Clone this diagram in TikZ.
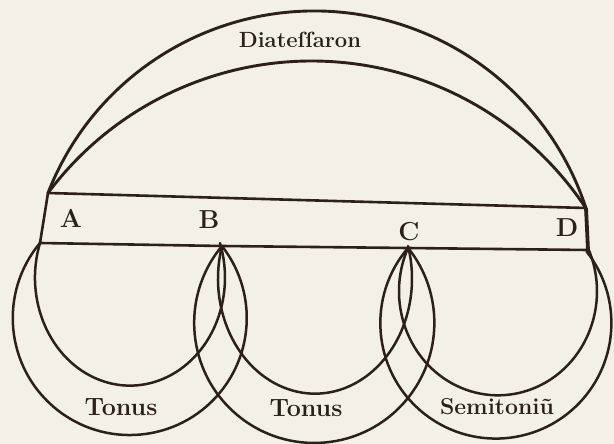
\documentclass[tikz,border=0pt]{standalone}
\usepackage{tikz}
\definecolor{ink}{HTML}{2B211A}
\definecolor{paper}{HTML}{F3F0E8}
\tikzset{
  bowline/.style  = {draw=ink, line width=2.9pt, line cap=round, line join=round},
  barline/.style  = {draw=ink, line width=2.6pt, line cap=round, line join=round},
  edgeline/.style = {draw=ink, line width=3.8pt},
  moonline/.style = {draw=ink, line width=2.5pt, line cap=round},
  word/.style     = {text=ink, inner sep=0pt,
                     font=\fontsize{23}{26}\selectfont\bfseries},
  letter/.style   = {text=ink, inner sep=0pt,
                     font=\fontsize{26}{28}\selectfont\bfseries},
}

\begin{document}
\begin{tikzpicture}[x=1pt, y=-1pt]

  \fill[paper] (0,0) rectangle (614,444);
  \useasboundingbox (0,0) rectangle (614,444);

  % corners of the bar and the two inner steps
  \coordinate (tl) at (48,193);
  \coordinate (tr) at (586,208);
  \coordinate (bl) at (40,243);
  \coordinate (br) at (588,250);
  \coordinate (pb) at (222,246);
  \coordinate (pc) at (408,248);

  % Diatessaron
  \draw[bowline] (tl) arc[start angle=-158.7, end angle=-18.1, radius=285.8];
  \draw[bowline] (tl) arc[start angle=-143.2, end angle=-33.6, radius=329.2];
  \node[word, font=\fontsize{22}{26}\selectfont\bfseries] (diat) at (300,40) {Diateſſaron};

  % bar
  \draw[barline] (tl) -- (tr);
  \draw[barline] (tl) -- (bl);
  \draw[barline] (bl) -- (pb) -- (pc) -- (br);
  \draw[edgeline] (tr) -- (br);
  \node[letter] (la) at (71,218) {A};
  \node[letter] (lb) at (209,220) {B};
  \node[letter] (lc) at (409,232) {C};
  \node[letter] (ld) at (567,228) {D};

  % Tonus
  \draw[moonline] (bl) arc[start angle=219.9, end angle=-38.0, radius=117];
  \draw[moonline] (bl) arc[start angle=198.7, end angle=-18.7,
                            x radius=95, y radius=108];
  \node[word, font=\fontsize{25}{28}\selectfont\bfseries] (tona) at (121,407) {Tonus};

  % Tonus
  \draw[moonline] (pb) arc[start angle=219.8, end angle=-38.6, radius=120.1];
  \draw[moonline] (pb) arc[start angle=196.5, end angle=-16.5,
                            x radius=97, y radius=115];
  \node[word, font=\fontsize{25}{28}\selectfont\bfseries] (tonb) at (306,408) {Tonus};

  % Semitonium
  \draw[moonline] (pc) arc[start angle=220.5, end angle=-38.2, radius=115.55];
  \draw[moonline] (pc) arc[start angle=204.6, end angle=-24.6,
                            x radius=99, y radius=104];
  \node[word] (semi) at (497,407) {Semitoniũ};

\end{tikzpicture}
\end{document}
